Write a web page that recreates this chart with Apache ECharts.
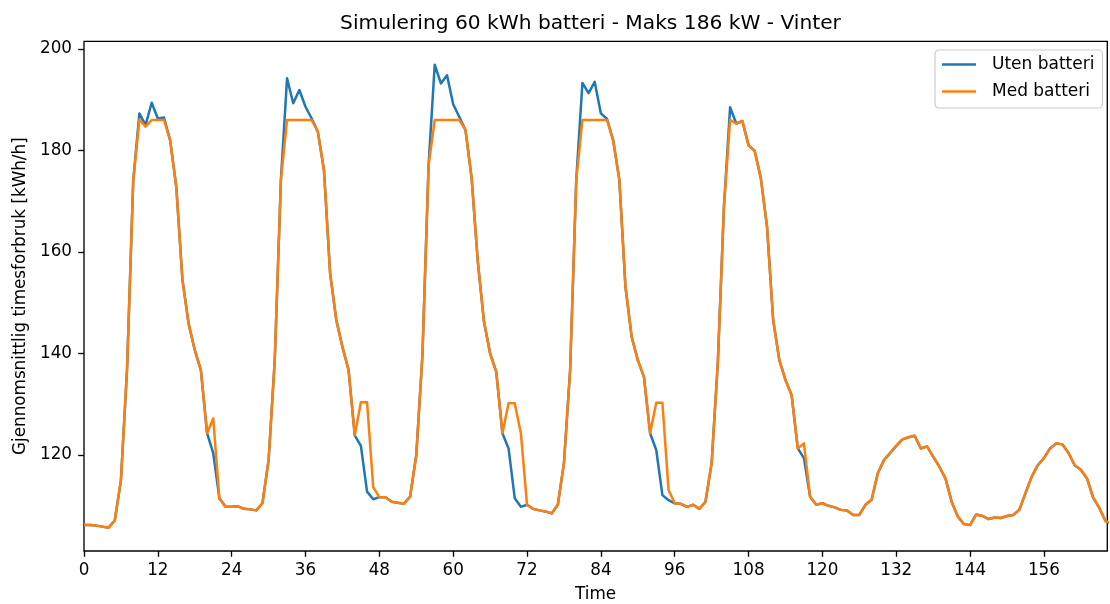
<!DOCTYPE html>
<html>
<head>
<meta charset="utf-8">
<script src="https://cdn.jsdelivr.net/npm/echarts@6/dist/echarts.min.js"></script>
<style>
html,body{margin:0;padding:0;background:#fff;}
#chart{width:1110px;height:604px;}
</style>
</head>
<body>
<div id="chart"></div>
<script>
// Hourly average consumption [kWh/h], hours 0..167
const utenBatteri = [
106.2, 106.2, 106.1, 105.9, 105.7, 107.1, 115.0, 137.0, 174.0, 187.3,
185.0, 189.4, 186.3, 186.5, 182.0, 172.8, 154.5, 145.9, 140.7, 136.7,
124.3, 120.4, 111.5, 109.8, 109.8, 109.9, 109.4, 109.3, 109.1, 110.5,
119.0, 138.7, 174.2, 194.2, 189.3, 191.9, 188.6, 186.3, 183.7, 176.1,
155.8, 146.6, 141.3, 136.7, 123.9, 121.8, 112.8, 111.3, 111.7, 111.7,
110.8, 110.6, 110.4, 111.8, 120.0, 139.7, 177.1, 196.9, 193.2, 194.8,
189.1, 186.6, 184.0, 174.5, 158.1, 146.3, 140.0, 136.4, 124.3, 121.3,
111.5, 109.8, 110.2, 109.4, 109.1, 108.9, 108.5, 110.2, 118.4, 136.7,
174.2, 193.3, 191.3, 193.5, 187.3, 186.2, 182.0, 174.2, 153.1, 143.3,
138.7, 135.4, 124.3, 121.0, 112.1, 111.1, 110.5, 110.4, 109.8, 110.2,
109.4, 110.8, 118.4, 138.1, 168.9, 188.5, 185.3, 185.8, 181.0, 179.9,
174.5, 165.0, 146.6, 138.7, 134.8, 131.8, 121.3, 119.4, 111.8, 110.2,
110.5, 110.0, 109.7, 109.2, 109.1, 108.2, 108.2, 110.2, 111.2, 116.4,
119.0, 120.4, 121.8, 123.1, 123.5, 123.8, 121.3, 121.7, 119.7, 117.7,
115.4, 110.8, 107.9, 106.4, 106.2, 108.3, 108.0, 107.4, 107.7, 107.6,
108.0, 108.2, 109.2, 112.5, 115.7, 118.0, 119.4, 121.3, 122.3, 122.1,
120.4, 118.0, 117.1, 115.4, 111.6, 109.6, 107.0, 106.5
];
const medBatteri = [
106.2, 106.2, 106.1, 105.9, 105.7, 107.1, 115.0, 137.0, 174.0, 186.1,
184.7, 186.0, 186.0, 186.0, 182.0, 172.8, 154.5, 145.9, 140.7, 136.7,
124.3, 127.2, 111.5, 109.8, 109.8, 109.9, 109.4, 109.3, 109.1, 110.5,
119.0, 138.7, 174.2, 186.0, 186.0, 186.0, 186.0, 186.0, 183.7, 176.1,
155.8, 146.6, 141.3, 136.7, 123.9, 130.4, 130.4, 113.7, 111.7, 111.7,
110.8, 110.6, 110.4, 111.8, 120.0, 139.7, 177.1, 186.0, 186.0, 186.0,
186.0, 186.0, 184.0, 174.5, 158.1, 146.3, 140.0, 136.4, 124.3, 130.2,
130.2, 124.3, 110.2, 109.4, 109.1, 108.9, 108.5, 110.2, 118.4, 136.7,
174.2, 186.0, 186.0, 186.0, 186.0, 186.0, 182.0, 174.2, 153.1, 143.3,
138.7, 135.4, 124.3, 130.3, 130.3, 113.1, 110.5, 110.4, 109.8, 110.2,
109.4, 110.8, 118.4, 138.1, 168.9, 186.0, 185.3, 185.8, 181.0, 179.9,
174.5, 165.0, 146.6, 138.7, 134.8, 131.8, 121.3, 122.3, 111.8, 110.2,
110.5, 110.0, 109.7, 109.2, 109.1, 108.2, 108.2, 110.2, 111.2, 116.4,
119.0, 120.4, 121.8, 123.1, 123.5, 123.8, 121.3, 121.7, 119.7, 117.7,
115.4, 110.8, 107.9, 106.4, 106.2, 108.3, 108.0, 107.4, 107.7, 107.6,
108.0, 108.2, 109.2, 112.5, 115.7, 118.0, 119.4, 121.3, 122.3, 122.1,
120.4, 118.0, 117.1, 115.4, 111.6, 109.6, 107.0, 106.5
];
const xTicks = [0, 12, 24, 36, 48, 60, 72, 84, 96, 108, 120, 132, 144, 156];
const yTicks = [120, 140, 160, 180, 200];
const seriesNames = ['Uten batteri', 'Med batteri'];
const titleText = 'Simulering 60 kWh batteri - Maks 186 kW - Vinter';

const toPairs = arr => arr.map((v, i) => [i, v]);
const FONT = 'DejaVu Sans';
const chart = echarts.init(document.getElementById('chart'), null, {renderer: 'canvas'});
chart.setOption({
  animation: false,
  backgroundColor: '#ffffff',
  title: {
    text: titleText,
    left: 590.5,
    textAlign: 'center',
    top: 14,
    padding: 0,
    textStyle: {fontFamily: FONT, fontSize: 20.2, fontWeight: 'normal', color: '#000'}
  },
  legend: {
    data: seriesNames,
    orient: 'vertical',
    left: 935,
    top: 50,
    padding: [5, 8, 7, 7],
    itemGap: 8,
    itemWidth: 34,
    itemHeight: 2.5,
    icon: 'rect',
    backgroundColor: 'rgba(255,255,255,0.8)',
    borderColor: '#cccccc',
    borderWidth: 1.2,
    borderRadius: 4,
    textStyle: {fontFamily: FONT, fontSize: 17, lineHeight: 19, color: '#000', padding: [0, 0, 0, 11]}
  },
  grid: {
    left: 84, top: 41.3, width: 1023.3, height: 509.7,
    containLabel: false, outerBoundsMode: 'none',
    show: true, borderColor: '#000', borderWidth: 1.33, backgroundColor: 'transparent'
  },
  xAxis: {
    type: 'value', min: 0, max: 166.3,
    name: 'Time', nameLocation: 'middle', nameGap: 35,
    nameTextStyle: {fontFamily: FONT, fontSize: 16.8, color: '#000'},
    axisLine: {show: false},
    axisTick: {show: true, inside: false, length: 5.8, customValues: xTicks, lineStyle: {color: '#000', width: 1.33}},
    axisLabel: {customValues: xTicks, margin: 11, fontFamily: FONT, fontSize: 16.8, color: '#000'},
    splitLine: {show: false}
  },
  yAxis: {
    type: 'value', min: 101.1, max: 201.5,
    name: 'Gjennomsnittlig timesforbruk [kWh/h]', nameLocation: 'middle', nameGap: 55, nameRotate: 90,
    nameTextStyle: {fontFamily: FONT, fontSize: 16.8, color: '#000'},
    axisLine: {show: false},
    axisTick: {show: true, inside: false, length: 5.8, customValues: yTicks, lineStyle: {color: '#000', width: 1.33}},
    axisLabel: {customValues: yTicks, margin: 12, fontFamily: FONT, fontSize: 16.8, color: '#000'},
    splitLine: {show: false}
  },
  series: [
    {
      name: seriesNames[0], type: 'line', data: toPairs(utenBatteri),
      showSymbol: false, symbol: 'none', color: '#1f77b4',
      lineStyle: {width: 2.5, color: '#1f77b4', join: 'round'}, clip: true, z: 2
    },
    {
      name: seriesNames[1], type: 'line', data: toPairs(medBatteri),
      showSymbol: false, symbol: 'none', color: '#ff7f0e',
      lineStyle: {width: 2.5, color: '#ff7f0e', join: 'round'}, clip: true, z: 3
    }
  ]
});
</script>
</body>
</html>
